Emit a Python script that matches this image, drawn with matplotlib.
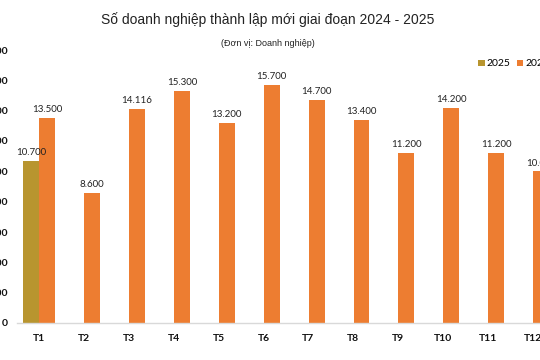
import matplotlib.pyplot as plt
import numpy as np

months = ['T1', 'T2', 'T3', 'T4', 'T5', 'T6', 'T7', 'T8', 'T9', 'T10', 'T11', 'T12']
v2025 = [10700, 0, 0, 0, 0, 0, 0, 0, 0, 0, 0, 0]
v2024 = [13500, 8600, 14116, 15300, 13200, 15700, 14700, 13400, 11200, 14200, 11200, 10000]
yticks = list(range(0, 18001, 2000))


def fmt(v):
    return '{:,}'.format(v).replace(',', '.')


fig = plt.figure(figsize=(5.4, 3.6), dpi=100)
W, H = 540, 360
# plot area: category 0 at x=39px, spacing 44.9px; y=0 at 323px, 18000 at 50px
step = 44.9
left_px = 39 - step / 2
right_px = left_px + 12 * step
ax = fig.add_axes([left_px / W, 1 - 323 / H, (right_px - left_px) / W, (323 - 50) / H])

x = np.arange(len(months))
w = 0.355
c25 = '#B8952F'
c24 = '#ED7D31'
b25 = ax.bar(x - w / 2 - 0.005, v2025, w, color=c25, label='2025')
b24 = ax.bar(x + w / 2 + 0.005, v2024, w, color=c24, label='2024')

num_font = ['Lato', 'DejaVu Sans']
for rect, v in zip(b25, v2025):
    if v:
        ax.text(rect.get_x() + rect.get_width() / 2, v + 250, fmt(v),
                ha='center', va='bottom', fontsize=7, color='#222222', family=num_font)
for rect, v in zip(b24, v2024):
    ax.text(rect.get_x() + rect.get_width() / 2, v + 250, fmt(v),
            ha='center', va='bottom', fontsize=7, color='#222222', family=num_font)

ax.set_xlim(-0.5, 11.5)
ax.set_ylim(0, 18000)
ax.set_xticks(x)
ax.set_xticklabels(months, fontsize=7.5, fontweight='bold', family=num_font, color='#111111')
ax.set_yticks(yticks)
ax.set_yticklabels([fmt(t) for t in yticks], fontsize=7.5, fontweight='bold',
                   family=num_font, color='#111111')
ax.tick_params(axis='both', length=0)
ax.tick_params(axis='x', pad=8)
ax.tick_params(axis='y', pad=6)
for s in ['top', 'right', 'left']:
    ax.spines[s].set_visible(False)
ax.spines['bottom'].set_color('#d9d9d9')
ax.spines['bottom'].set_linewidth(1)

fig.text(268 / W, 1 - 20 / H, 'Số doanh nghiệp thành lập mới giai đoạn 2024 - 2025',
         ha='center', va='center', fontsize=10, family='Liberation Sans', color='#222222')
fig.text(268 / W, 1 - 44 / H, '(Đơn vị: Doanh nghiệp)',
         ha='center', va='center', fontsize=6.5, family='Liberation Sans', color='#222222')

leg = ax.legend(loc='center left', bbox_to_anchor=(469 / W, 1 - 64 / H),
                bbox_transform=fig.transFigure, ncol=2, frameon=False,
                prop={'family': 'Lato', 'size': 7.5},
                handlelength=0.6, handleheight=0.6, handletextpad=0.2, columnspacing=0.6)

fig.savefig('out.png', dpi=100)
